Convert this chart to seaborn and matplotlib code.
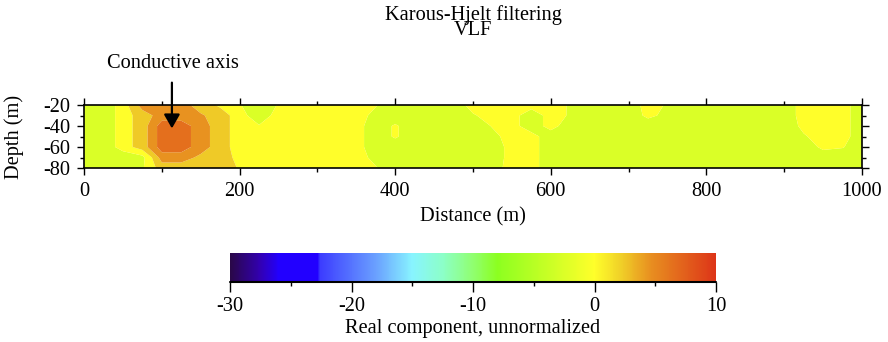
import numpy as np
import matplotlib
matplotlib.use("Agg")
import matplotlib as mpl
import matplotlib.pyplot as plt
import seaborn as sns
from matplotlib.colors import LinearSegmentedColormap, Normalize
from matplotlib.ticker import MultipleLocator

# ---------------- data ----------------
distance_m = [0, 25, 50, 75, 100, 125, 150, 175, 200, 225, 250, 275, 300, 325,
              350, 375, 400, 425, 450, 475, 500, 525, 550, 575, 600, 625, 650,
              675, 700, 725, 750, 775, 800, 825, 850, 875, 900, 925, 950, 975, 1000]
depth_m = [-20, -30, -40, -50, -60, -70, -80]

real_m20 = [-3, -3, 0, 4.5, 4.5, 4.5, 2.4, 0.8, -1.0, -3, -1.0, 0, 0, 0,
            0, -1.0, -3, -3, -3, -3, 0, 0, 0, 0, 0, -1.5, -3,
            -3, -3, 0, -1.5, -3, -3, -3, -3, -3, -3, 0, 0, 0, -3]
real_m30 = [-3, -3, 0, 2.4, 4.5, 4.5, 3.8, 2.4, 0, -3, 0, 0, 0, 0,
            0, -2, -3, -3, -3, -3, -1.5, 0, 0, -3, 0, -1.5, -3,
            -3, -3, -0.5, -2, -3, -3, -3, -3, -3, -3, 0, 0, 0, -3]
real_m40 = [-3, -3, 0, 2.4, 6.5, 6.5, 4.5, 2.4, 0, -1, 0, 0, 0, 0,
            0, -3, -0.8, -3, -3, -3, -3, -1, 0, -3, 0, -3, -3,
            -3, -3, -3, -3, -3, -3, -3, -3, -3, -3, -0.5, 0, 0, -3]
real_m50 = [-3, -3, 0, 2.4, 6.5, 6.5, 4.5, 2.4, 0, 0, 0, 0, 0, 0,
            0, -3, -0.8, -3, -3, -3, -3, -2, 0, 0, -3, -3, -3,
            -3, -3, -3, -3, -3, -3, -3, -3, -3, -3, -1.5, 0, 0, -3]
real_m60 = [-3, -3, 0, 2.4, 6.5, 6.5, 4.5, 2.4, 0, 0, 0, 0, 0, 0,
            0, -3, -3, -3, -3, -3, -3, -3, 0, 0, -3, -3, -3,
            -3, -3, -3, -3, -3, -3, -3, -3, -3, -3, -3, -0.5, -1.0, -3]
real_m70 = [-3, -3, -3, -2, 4.5, 4.5, 3.0, 2.4, 0.5, 0, 0, 0, 0, 0,
            0, -2, -3, -3, -3, -3, -3, -3, 0, 0, -3, -3, -3,
            -3, -3, -3, -3, -3, -3, -3, -3, -3, -3, -3, -3, -3, -3]
real_m80 = [-3, -3, -3, -1.5, 2.4, 2.4, 2.4, 2.4, 1.0, 0, 0, 0, 0, 0,
            0, -1, -3, -3, -3, -3, -3, -2.5, 0, 0, -3, -3, -3,
            -3, -3, -3, -3, -3, -3, -3, -3, -3, -3, -3, -3, -3, -3]

contour_levels = [-4, -1.2, 1.2, 3.5, 5.5, 7.5]

cmap_values = [-30, -27.5, -26, -22.8, -22.6, -18, -15, -12.5, -10, -8, 0, 2.2, 4.6, 10]
cmap_colors = ['#2a0848', '#3200b4', '#2200ff', '#2200ff', '#3c3cff', '#6aa0ff',
               '#88f4ff', '#8cffc8', '#90ff70', '#8cff20', '#ffff2a', '#f0d028',
               '#e89020', '#dd3518']
cbar_ticks = [-30, -20, -10, 0, 10]
x_ticks = [0, 200, 400, 600, 800, 1000]
y_ticks = [-80, -60, -40, -20]

# ---------------- style ----------------
sns.set_theme(style="ticks")
plt.rcParams['font.family'] = ['Liberation Serif', 'DejaVu Serif']
plt.rcParams['axes.unicode_minus'] = False
FS = 14.7

W, H = 888, 342
fig = plt.figure(figsize=(W / 100, H / 100), dpi=100)

# main axes (pixel box 84..862 x 105..168)
ax = fig.add_axes([84 / W, 1 - 168 / H, (862 - 84) / W, (168 - 105) / H])

vmin, vmax = cmap_values[0], cmap_values[-1]
pos = [(v - vmin) / (vmax - vmin) for v in cmap_values]
cmap = LinearSegmentedColormap.from_list("vlf", list(zip(pos, cmap_colors)), N=512)
norm = Normalize(vmin=vmin, vmax=vmax)

Z = np.array([real_m20, real_m30, real_m40, real_m50, real_m60, real_m70, real_m80])
ax.contourf(distance_m, depth_m, Z, levels=contour_levels, cmap=cmap, norm=norm,
            antialiased=True)

ax.set_xlim(0, 1000)
ax.set_ylim(-80, -20)
ax.set_xticks(x_ticks)
ax.set_yticks(y_ticks)
ax.xaxis.set_minor_locator(MultipleLocator(100))
ax.yaxis.set_minor_locator(MultipleLocator(10))
ax.tick_params(which='both', direction='out', top=True, right=True,
               labeltop=False, labelright=False, color='black', width=1,
               labelsize=FS, labelcolor='black')
ax.tick_params(which='major', length=5, pad=5)
ax.tick_params(which='minor', length=3)
for s in ax.spines.values():
    s.set_linewidth(1.2)
    s.set_color('black')

ax.set_xlabel("Distance (m)", fontsize=FS, color='black')
ax.xaxis.set_label_coords(0.5, -0.62)
ax.set_ylabel("Depth (m)", fontsize=FS, color='black')
ax.yaxis.set_label_coords(-0.077, 0.5)

# title (two tight lines, one text)
fig.text(473 / W, 1 - 35 / H, "Karous-Hjelt filtering\nVLF", ha='center', va='baseline',
         fontsize=FS, color='black', linespacing=0.72, multialignment='center')

# annotation
fig.text(172.5 / W, 1 - 68 / H, "Conductive axis", ha='center', va='baseline',
         fontsize=FS, color='black')
ax.annotate('', xy=(113, -42.3), xytext=(113, 1.3), annotation_clip=False,
            arrowprops=dict(arrowstyle='-|>,head_length=0.42,head_width=0.24',
                            mutation_scale=20, lw=1.6, color='black',
                            shrinkA=0, shrinkB=0))

# colorbar (pixel box 230..716 x 253..282)
cax = fig.add_axes([230 / W, 1 - 282 / H, (716 - 230) / W, (282 - 253) / H])
sm = mpl.cm.ScalarMappable(norm=norm, cmap=cmap)
cb = fig.colorbar(sm, cax=cax, orientation='horizontal')
cb.outline.set_visible(False)
cb.set_ticks(cbar_ticks)
cax.xaxis.set_minor_locator(MultipleLocator(5))
cax.tick_params(which='both', direction='out', color='black', width=1,
                labelsize=FS, labelcolor='black', bottom=True)
cax.tick_params(which='major', length=7, pad=4)
cax.tick_params(which='minor', length=3)
cax.axhline(0, color='black', lw=1.5, clip_on=False)
cb.set_label("Real component, unnormalized", fontsize=FS, color='black', labelpad=2)

fig.savefig("out.png", dpi=100)
